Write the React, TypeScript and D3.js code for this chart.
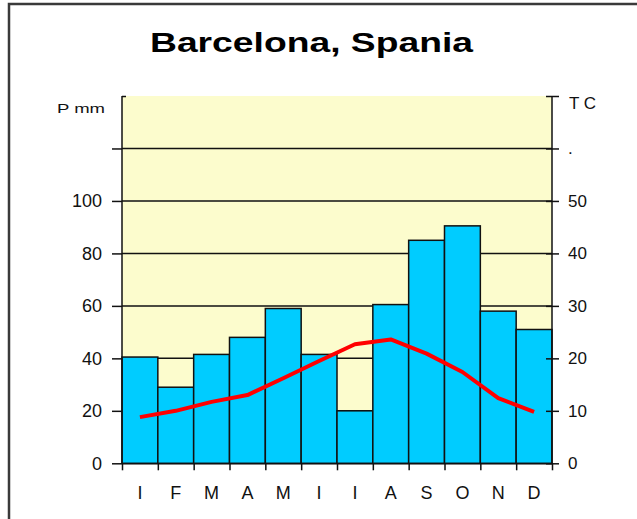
import { useEffect, useRef } from "react";
import * as d3 from "d3";

const months = ["Ian", "Feb", "Mar", "Apr", "Mai", "Iun", "Iul", "Aug", "Sep", "Oct", "Noi", "Dec"];
const monthLabels = ["I", "F", "M", "A", "M", "I", "I", "A", "S", "O", "N", "D"];
const precip = [40.5, 29, 41.5, 48, 59, 41.5, 20, 60.5, 85, 90.5, 58, 51];
const temp = [8.8, 10, 11.7, 13, 16.2, 19.5, 22.7, 23.6, 20.9, 17.4, 12.4, 9.8];
const precipTicks = [0, 20, 40, 60, 80, 100, 120];
const tempTicks = [0, 10, 20, 30, 40, 50, 60, 70];

const FONT = "'Liberation Sans', Arial, sans-serif";

const App = () => {
  const ref = useRef<SVGSVGElement | null>(null);

  useEffect(() => {
    const width = 637;
    const height = 519;
    const plot = { left: 122, right: 552, top: 96, bottom: 463.3 };

    const svg = d3.select(ref.current);
    svg.selectAll("*").remove();

    svg.append("rect").attr("width", width).attr("height", height).attr("fill", "#fff");
    // outer frame (runs off the right and bottom edges)
    svg
      .append("rect")
      .attr("x", 9)
      .attr("y", 4)
      .attr("width", 700)
      .attr("height", 600)
      .attr("fill", "none")
      .attr("stroke", "#3a3a3a")
      .attr("stroke-width", 2.5);

    svg
      .append("text")
      .attr("x", 150)
      .attr("y", 52)
      .attr("font-family", FONT)
      .attr("font-weight", "bold")
      .attr("font-size", 28)
      .attr("textLength", 323)
      .attr("lengthAdjust", "spacingAndGlyphs")
      .text("Barcelona, Spania");

    const x = d3.scaleBand().domain(months).range([plot.left, plot.right]).padding(0);
    const xEdges = d3.scaleLinear().domain([0, 12]).range([plot.left, plot.right]);
    const yP = d3.scaleLinear().domain([0, 140]).range([plot.bottom, plot.top]);
    const yT = d3.scaleLinear().domain([0, 70]).range([plot.bottom, plot.top]);

    svg
      .append("rect")
      .attr("x", plot.left)
      .attr("y", plot.top)
      .attr("width", plot.right - plot.left)
      .attr("height", plot.bottom - plot.top)
      .attr("fill", "#fcfccd");

    // gridlines
    svg
      .append("g")
      .selectAll("line")
      .data(precipTicks.slice(1))
      .join("line")
      .attr("x1", plot.left)
      .attr("x2", plot.right)
      .attr("y1", (d) => yP(d))
      .attr("y2", (d) => yP(d))
      .attr("stroke", "#111")
      .attr("stroke-width", 1.5);

    // precipitation bars
    svg
      .append("g")
      .selectAll("rect")
      .data(precip)
      .join("rect")
      .attr("x", (_, i) => x(months[i]) as number)
      .attr("y", (d) => yP(d))
      .attr("width", x.bandwidth())
      .attr("height", (d) => plot.bottom - yP(d))
      .attr("fill", "#00ccff")
      .attr("stroke", "#111")
      .attr("stroke-width", 1.5);

    // temperature line
    const line = d3
      .line<number>()
      .x((_, i) => (x(months[i]) as number) + x.bandwidth() / 2)
      .y((d) => yT(d));

    svg
      .append("path")
      .datum(temp)
      .attr("fill", "none")
      .attr("stroke", "#ff0000")
      .attr("stroke-width", 4)
      .attr("stroke-linejoin", "round")
      .attr("d", line);

    const styleAxis = (g: d3.Selection<SVGGElement, unknown, null, undefined>) => {
      g.selectAll("line").attr("stroke", "#111").attr("stroke-width", 1.5);
      g.selectAll("path").attr("stroke", "#111").attr("stroke-width", 1.5);
      g.selectAll("text").attr("font-family", FONT).attr("font-size", 18).attr("fill", "#111");
    };

    // left axis (no label on the 120 tick)
    const left = svg
      .append("g")
      .attr("transform", `translate(${plot.left},0)`)
      .call(
        d3
          .axisLeft(yP)
          .tickValues(precipTicks)
          .tickSize(10)
          .tickSizeOuter(0)
          .tickPadding(10)
          .tickFormat((d) => (d === 120 ? "" : String(d)))
      );
    left.select(".domain").remove();
    styleAxis(left);
    svg
      .append("g")
      .attr("transform", `translate(${plot.left},0)`)
      .call(d3.axisRight(yP).tickValues([140]).tickSize(4).tickSizeOuter(0).tickFormat(() => ""))
      .call((g) => g.select(".domain").remove())
      .call(styleAxis);

    // right axis, ticks crossing the axis line
    const right = svg
      .append("g")
      .attr("transform", `translate(${plot.right - 6},0)`)
      .call(
        d3
          .axisRight(yT)
          .tickValues(tempTicks)
          .tickSize(13)
          .tickSizeOuter(0)
          .tickPadding(9)
          .tickFormat((d) => (d === 70 ? "" : d === 60 ? "." : String(d)))
      );
    right.select(".domain").remove();
    styleAxis(right);
    right.selectAll("text").attr("font-size", 17);

    svg
      .append("line")
      .attr("x1", plot.left)
      .attr("x2", plot.left)
      .attr("y1", plot.top)
      .attr("y2", plot.bottom)
      .attr("stroke", "#111")
      .attr("stroke-width", 1.5);
    svg
      .append("line")
      .attr("x1", plot.right)
      .attr("x2", plot.right)
      .attr("y1", plot.top)
      .attr("y2", plot.bottom)
      .attr("stroke", "#111")
      .attr("stroke-width", 1.5);

    // bottom axis: ticks at band edges, labels at band centres
    const bottomTicks = svg
      .append("g")
      .attr("transform", `translate(0,${plot.bottom})`)
      .call(d3.axisBottom(xEdges).tickValues(d3.range(13)).tickSize(7).tickSizeOuter(0).tickFormat(() => ""));
    styleAxis(bottomTicks);

    const bottomLabels = svg
      .append("g")
      .attr("transform", `translate(0,${plot.bottom})`)
      .call(
        d3
          .axisBottom(x)
          .tickSize(0)
          .tickPadding(23)
          .tickFormat((_, i) => monthLabels[i])
      );
    bottomLabels.select(".domain").remove();
    styleAxis(bottomLabels);

    // axis titles
    svg
      .append("text")
      .attr("x", 57)
      .attr("y", 112.5)
      .attr("font-family", FONT)
      .attr("font-size", 13)
      .attr("textLength", 48)
      .attr("lengthAdjust", "spacingAndGlyphs")
      .attr("fill", "#111")
      .text("P mm");
    svg
      .append("text")
      .attr("x", 569)
      .attr("y", 109)
      .attr("font-family", FONT)
      .attr("font-size", 17)
      .attr("fill", "#111")
      .text("T C");
  }, []);

  return (
    <svg
      ref={ref}
      width={637}
      height={519}
      style={{ position: "absolute", left: 0, top: 0, display: "block" }}
    ></svg>
  );
};

export default App;
